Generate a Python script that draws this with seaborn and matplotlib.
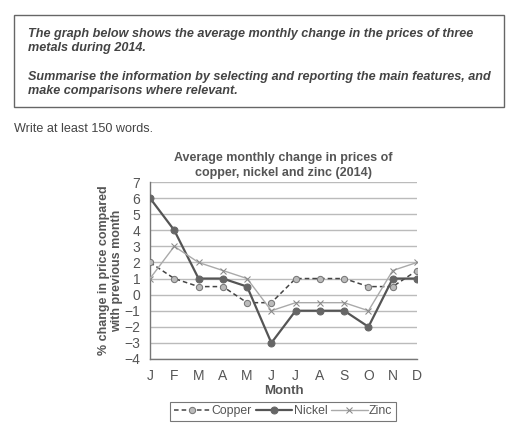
import matplotlib
matplotlib.use("Agg")
import matplotlib.pyplot as plt
import seaborn as sns
import pandas as pd
from matplotlib.patches import Rectangle

months = ["J", "F", "M", "A", "M", "J", "J", "A", "S", "O", "N", "D"]
copper = [2, 1, 0.5, 0.5, -0.5, -0.5, 1, 1, 1, 0.5, 0.5, 1.5]
nickel = [6, 4, 1, 1, 0.5, -3, -1, -1, -1, -2, 1, 1]
zinc = [1, 3, 2, 1.5, 1, -1, -0.5, -0.5, -0.5, -1, 1.5, 2]
yticks = list(range(-4, 8))

sns.set_theme(style="white")
plt.rcParams['font.family'] = ['Liberation Sans', 'DejaVu Sans']

idx = list(range(len(months)))
df = pd.DataFrame({"m": idx * 3,
                   "v": copper + nickel + zinc,
                   "metal": ["Copper"] * 12 + ["Nickel"] * 12 + ["Zinc"] * 12})

fig = plt.figure(figsize=(5.12, 4.29), dpi=100)
ax = fig.add_axes([150 / 512, 1 - 359 / 429, (417 - 150) / 512, (359 - 182) / 429])

txt = "#555555"
styles = {
    "Copper": dict(color="#444444", linestyle=(0, (3, 2)), marker="o", markersize=4.5,
                   markerfacecolor="#bbbbbb", markeredgecolor="#777777", linewidth=1.1),
    "Nickel": dict(color="#555555", linestyle="-", marker="o", markersize=5,
                   markerfacecolor="#666666", markeredgecolor="#666666", linewidth=1.6),
    "Zinc": dict(color="#aaaaaa", linestyle="-", marker="x", markersize=4.5,
                 markeredgecolor="#888888", linewidth=1.0),
}
for name in ["Copper", "Nickel", "Zinc"]:
    sns.lineplot(data=df[df.metal == name], x="m", y="v", ax=ax, label=name,
                 zorder=3, **styles[name])

ax.set_xlim(0, 11)
ax.set_ylim(-4, 7)
ax.set_yticks(yticks)
ax.set_yticklabels([str(t).replace("-", "\u2212") for t in yticks])
ax.set_xticks(idx)
ax.set_xticklabels(months)
ax.grid(axis="y", color="#bbbbbb", linewidth=1.0)
ax.set_axisbelow(True)
for s in ["top", "right"]:
    ax.spines[s].set_visible(False)
for s in ["left", "bottom"]:
    ax.spines[s].set_color("#777777")
    ax.spines[s].set_linewidth(1.0)
ax.tick_params(axis="both", colors="#777777", labelcolor=txt, labelsize=10,
               length=5, width=1, direction="out", pad=2)
ax.set_xlabel("Month", fontsize=9.5, fontweight="bold", color=txt, labelpad=2)
ax.set_ylabel("% change in price compared\nwith previous month", fontsize=9.0,
              fontweight="bold", color=txt, labelpad=1, linespacing=1.15)
ax.set_title("Average monthly change in prices of\ncopper, nickel and zinc (2014)",
             fontsize=9.0, fontweight="bold", color=txt, pad=4, linespacing=1.4)

leg = ax.legend(loc="lower center", bbox_to_anchor=(283 / 512, 1 - 421 / 429),
                bbox_transform=fig.transFigure, ncol=3, frameon=True, fancybox=False,
                fontsize=8.8, handlelength=3.0, handletextpad=0.1, columnspacing=0.3,
                borderpad=0.3, borderaxespad=0)
leg.get_frame().set_edgecolor("#555555")
leg.get_frame().set_linewidth(0.8)
for t in leg.get_texts():
    t.set_color(txt)

# instruction box
fig.patches.append(Rectangle((14 / 512, 1 - 107 / 429), 490 / 512, 92 / 429,
                             transform=fig.transFigure, fill=False,
                             edgecolor="#666666", linewidth=1.0))
box_kw = dict(fontsize=9.05, fontweight="bold", fontstyle="italic", color="#444444",
              va="center", ha="left", linespacing=1.25)
fig.text(28 / 512, 1 - 41 / 429,
         "The graph below shows the average monthly change in the prices of three\nmetals during 2014.",
         **box_kw)
fig.text(28 / 512, 1 - 84 / 429,
         "Summarise the information by selecting and reporting the main features, and\nmake comparisons where relevant.",
         **box_kw)
fig.text(14 / 512, 1 - 129 / 429, "Write at least 150 words.", fontsize=9.1,
         color="#444444", va="center", ha="left")

fig.savefig("out.png", dpi=100)
